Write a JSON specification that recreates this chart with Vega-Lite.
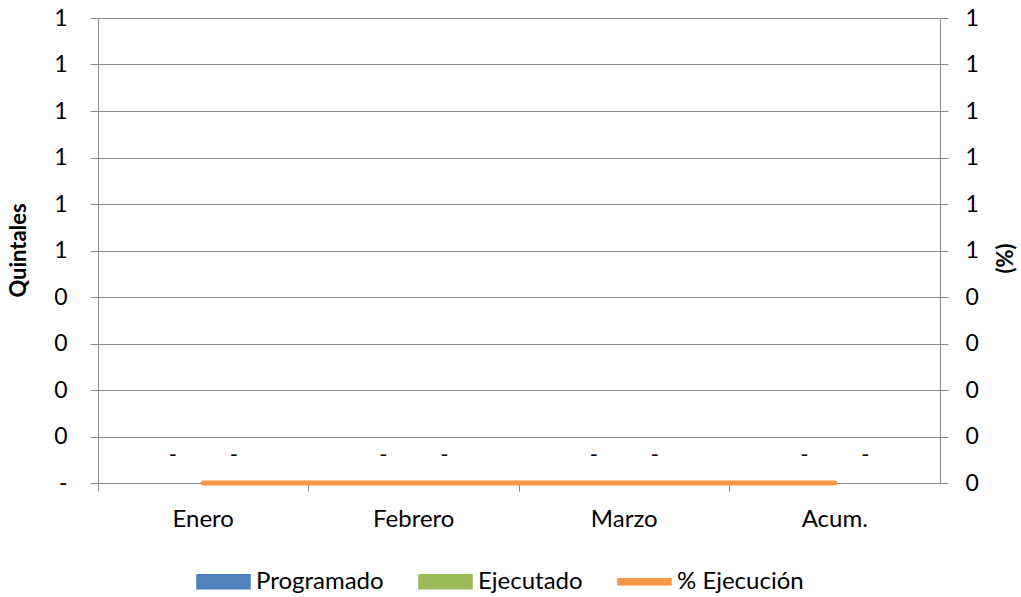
{
  "$schema": "https://vega.github.io/schema/vega-lite/v6.json",
  "autosize": {"type": "none"},
  "width": 842,
  "height": 465,
  "padding": {"left": 98, "top": 18, "right": 81, "bottom": 114},
  "background": "white",
  "config": {
    "view": {"stroke": null},
    "font": "Lato",
    "axis": {"labelFont": "Lato", "titleFont": "Lato", "labelColor": "#000000", "titleColor": "#000000"}
  },
  "datasets": {
    "barras": [
      {"mes": "Enero", "serie": "Programado", "valor": 0},
      {"mes": "Enero", "serie": "Ejecutado", "valor": 0},
      {"mes": "Febrero", "serie": "Programado", "valor": 0},
      {"mes": "Febrero", "serie": "Ejecutado", "valor": 0},
      {"mes": "Marzo", "serie": "Programado", "valor": 0},
      {"mes": "Marzo", "serie": "Ejecutado", "valor": 0},
      {"mes": "Acum.", "serie": "Programado", "valor": 0},
      {"mes": "Acum.", "serie": "Ejecutado", "valor": 0}
    ],
    "linea": [
      {"mes": "Enero", "serie": "% Ejecución", "valor": 0},
      {"mes": "Febrero", "serie": "% Ejecución", "valor": 0},
      {"mes": "Marzo", "serie": "% Ejecución", "valor": 0},
      {"mes": "Acum.", "serie": "% Ejecución", "valor": 0}
    ]
  },
  "encoding": {
    "x": {
      "field": "mes",
      "type": "nominal",
      "sort": ["Enero", "Febrero", "Marzo", "Acum."],
      "scale": {"domain": ["Enero", "Febrero", "Marzo", "Acum."], "paddingInner": 0, "paddingOuter": 0},
      "axis": {
        "title": null,
        "labelAngle": 0,
        "labelFontSize": 24,
        "labelPadding": 16,
        "bandPosition": 0,
        "tickSize": 8,
        "tickColor": "#8c8c8c",
        "domainColor": "#8c8c8c",
        "domainWidth": 1,
        "labelAlign": "center",
        "grid": false
      }
    }
  },
  "layer": [
    {
      "data": {"name": "barras"},
      "encoding": {
        "y": {
          "field": "valor",
          "type": "quantitative",
          "scale": {"domain": [0, 1], "nice": false, "zero": true},
          "axis": {
            "title": "Quintales",
            "titleFontSize": 22,
            "titleFontWeight": "bold",
            "titleAngle": -90,
            "titleX": -80,
            "titleY": 232,
            "titleAlign": "center",
            "titleBaseline": "middle",
            "values": [0, 0.1, 0.2, 0.3, 0.4, 0.5, 0.6, 0.7, 0.8, 0.9, 1],
            "labelExpr": "datum.value == 0 ? '-' : format(round(datum.value), 'd')",
            "labelFontSize": 23,
            "labelPadding": 23,
            "tickSize": 8,
            "tickColor": "#8c8c8c",
            "domainColor": "#8c8c8c",
            "grid": true,
            "gridColor": "#8c8c8c",
            "gridWidth": 1
          }
        }
      },
      "layer": [
        {
          "mark": {"type": "bar"},
          "encoding": {
            "xOffset": {
              "field": "serie",
              "type": "nominal",
              "scale": {"domain": ["Programado", "Ejecutado"], "paddingInner": 0, "paddingOuter": 0.725}
            },
            "color": {
              "field": "serie",
              "type": "nominal",
              "scale": {"domain": ["Programado", "Ejecutado", "% Ejecución"], "range": ["#4F81BD", "#9BBB59", "#F79646"]},
              "legend": {
                "title": null,
                "orient": "none",
                "direction": "horizontal",
                "legendX": 98,
                "legendY": 536,
                "labelFontSize": 24,
                "labelFont": "Lato",
                "labelColor": "#000000",
                "labelOffset": 5,
                "columnPadding": 32,
                "symbolSize": 2809,
                "encode": {
                  "symbols": {
                    "update": {
                      "shape": {"signal": "datum.value === '% Ejecución' ? 'M-1,-0.11H1V0.11H-1Z' : 'M-1,-0.26H1V0.26H-1Z'"},
                      "fill": {"scale": "color", "field": "value"},
                      "stroke": {"value": "transparent"},
                      "opacity": {"value": 1}
                    }
                  }
                }
              }
            }
          }
        },
        {
          "mark": {"type": "text", "fontSize": 22, "font": "Lato", "color": "#000000", "dy": -28, "baseline": "middle"},
          "encoding": {
            "xOffset": {
              "field": "serie",
              "type": "nominal",
              "scale": {"domain": ["Programado", "Ejecutado"], "paddingInner": 0, "paddingOuter": 0.725}
            },
            "text": {"value": "-"}
          }
        }
      ]
    },
    {
      "data": {"name": "linea"},
      "mark": {"type": "line", "strokeWidth": 5, "strokeCap": "round"},
      "encoding": {
        "y": {
          "field": "valor",
          "type": "quantitative",
          "scale": {"domain": [0, 1], "nice": false, "zero": true},
          "axis": {
            "orient": "right",
            "title": "(%)",
            "titleFontSize": 22,
            "titleFontWeight": "bold",
            "titleAngle": -90,
            "titleX": 65,
            "titleY": 240,
            "titleAlign": "center",
            "titleBaseline": "middle",
            "values": [0, 0.1, 0.2, 0.3, 0.4, 0.5, 0.6, 0.7, 0.8, 0.9, 1],
            "labelExpr": "format(round(datum.value), 'd')",
            "labelFontSize": 23,
            "labelPadding": 17,
            "tickSize": 8,
            "tickColor": "#8c8c8c",
            "domainColor": "#8c8c8c",
            "grid": false
          }
        },
        "color": {"field": "serie", "type": "nominal"}
      }
    }
  ],
  "resolve": {"scale": {"y": "independent"}}
}
